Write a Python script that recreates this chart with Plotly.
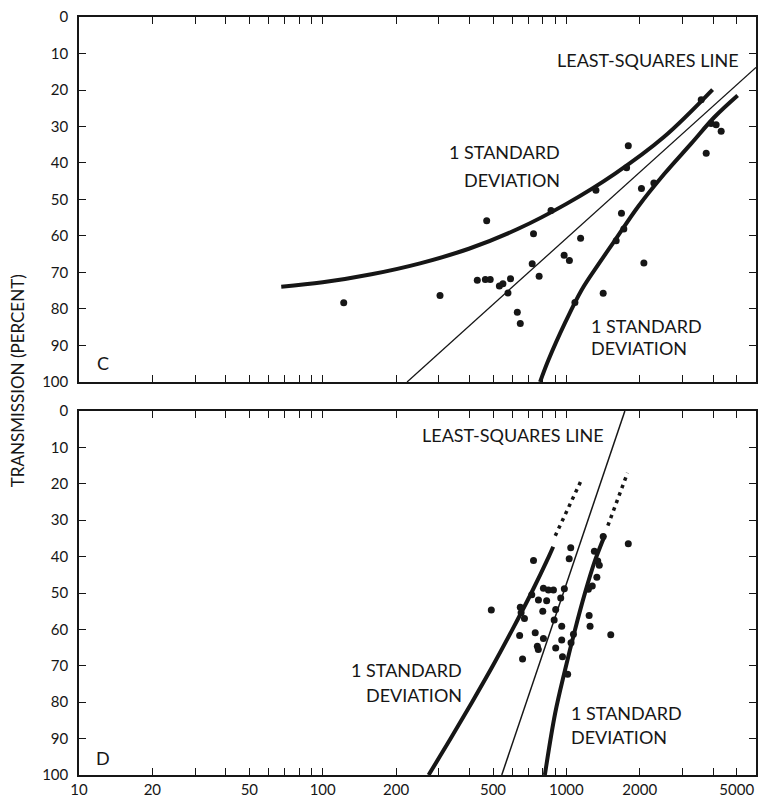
import plotly.graph_objects as go
import math

# ---------------- data ----------------
# Panel C scatter points (x: log scale value, y: transmission percent)
c_x = [122, 303, 471, 431, 465, 487, 531, 549, 590, 576, 629, 647, 733, 724, 773, 865,
       979, 1029, 1144, 1322, 1416, 1683, 1721, 1601, 2033, 2080, 2286, 1084, 1795, 1767,
       3925, 4117, 4318, 3748, 3575]
c_y = [78.3, 76.3, 55.8, 72.1, 71.9, 71.9, 73.7, 73.1, 71.7, 75.6, 80.9, 84.0, 59.4, 67.6,
       71.0, 53.0, 65.3, 66.7, 60.6, 47.5, 75.7, 53.8, 58.1, 61.3, 47.0, 67.4, 45.5, 78.2,
       35.3, 41.3, 29.2, 29.5, 31.3, 37.3, 22.7]

# Panel C curves
c_ls_x = [222, 6000]
c_ls_y = [100, 13.8]
c_sd1_x = [67.6, 100, 158.5, 251, 398, 631, 1000, 1585, 2512, 3981]
c_sd1_y = [73.9, 72.7, 70.5, 67.5, 63.5, 58.1, 51.2, 42.9, 32.9, 19.9]
c_sd2_x = [780, 844, 986, 1155, 1353, 1582, 1968, 2530, 3251, 4055, 5044]
c_sd2_y = [100, 94.0, 83.9, 74.8, 67.8, 61.2, 52.0, 42.9, 34.7, 27.4, 21.5]

# Panel D scatter points
d_x = [733, 1042, 1027, 1795, 1303, 1345, 1365, 1334, 1277, 1231, 805, 844, 885, 981, 721,
       768, 830, 948, 647, 652, 673, 492, 800, 904, 891, 1240, 1251, 957, 1521, 643, 745,
       805, 1069, 957, 760, 767, 904, 1045, 964, 661, 1012, 1416]
d_y = [41.1, 37.6, 40.6, 36.5, 38.5, 41.2, 42.4, 45.7, 48.1, 49.0, 48.7, 49.2, 49.2, 48.8,
       50.5, 51.9, 52.1, 51.4, 53.9, 55.4, 57.0, 54.7, 55.0, 54.5, 57.4, 56.2, 59.1, 59.1,
       61.5, 61.7, 60.9, 62.5, 61.3, 62.9, 64.6, 65.5, 65.1, 63.7, 67.5, 68.1, 72.3, 34.5]

# Panel D curves
d_ls_x = [543, 1738]
d_ls_y = [100, 0]
d_sd1_x = [272, 335, 410, 499, 601, 718, 847, 883]
d_sd1_y = [100, 90, 80, 70, 60, 50, 40, 37.3]
d_sd1_dot_x = [900, 1084, 1155]
d_sd1_dot_y = [34.3, 23.1, 18.8]
d_sd2_x = [816, 899, 987, 1084, 1191, 1309, 1439]
d_sd2_y = [100, 83.1, 71.2, 60.2, 50.1, 41.2, 34.1]
d_sd2_dot_x = [1480, 1671, 1782]
d_sd2_dot_y = [31.5, 21.7, 17.0]

# Ticks
x_tickvals = [10, 20, 30, 40, 50, 60, 70, 80, 90, 100, 200, 300, 400, 500, 600, 700, 800,
              900, 1000, 2000, 3000, 4000, 5000]
x_ticktext = ["10", "20", "", "", "50", "", "", "", "", "100", "200", "", "", "500", "", "",
              "", "", "1000", "2000", "", "", "5000"]
y_tickvals = [0, 10, 20, 30, 40, 50, 60, 70, 80, 90, 100]
y_ticktext = ["0", "10", "20", "30", "40", "50", "60", "70", "80", "90", "100"]

# ---------------- figure ----------------
INK = "#161616"
FONT = "Lato"

fig = go.Figure()

def line(x, y, xa, ya, width, dash="solid", shape="spline"):
    fig.add_trace(go.Scatter(x=x, y=y, xaxis=xa, yaxis=ya, mode="lines",
                             line=dict(color=INK, width=width, dash=dash, shape=shape,
                                       smoothing=1.0),
                             hoverinfo="skip", showlegend=False))

def pts(x, y, xa, ya):
    fig.add_trace(go.Scatter(x=x, y=y, xaxis=xa, yaxis=ya, mode="markers",
                             marker=dict(color=INK, size=7, line=dict(width=0)),
                             showlegend=False))

# Panel C
line(c_ls_x, c_ls_y, "x", "y", 1.3, shape="linear")
line(c_sd1_x, c_sd1_y, "x", "y", 4)
line(c_sd2_x, c_sd2_y, "x", "y", 4)
pts(c_x, c_y, "x", "y")

# Panel D
line(d_ls_x, d_ls_y, "x2", "y2", 1.5, shape="linear")
line(d_sd1_x, d_sd1_y, "x2", "y2", 4)
line(d_sd1_dot_x, d_sd1_dot_y, "x2", "y2", 3.5, dash="3.5px,4.5px", shape="linear")
line(d_sd2_x, d_sd2_y, "x2", "y2", 4)
line(d_sd2_dot_x, d_sd2_dot_y, "x2", "y2", 3.5, dash="3.5px,4.5px", shape="linear")
pts(d_x, d_y, "x2", "y2")

xcommon = dict(type="log", range=[1, math.log10(6000)], showgrid=False, zeroline=False,
               showline=True, linecolor=INK, linewidth=1.5, mirror="ticks",
               ticks="inside", ticklen=7, tickwidth=1.2, tickcolor=INK,
               tickmode="array", tickvals=x_tickvals, ticktext=x_ticktext,
               tickfont=dict(family=FONT, size=15, color=INK))
ycommon = dict(range=[100, 0], showgrid=False, zeroline=False,
               showline=True, linecolor=INK, linewidth=1.5, mirror="ticks",
               ticks="inside", ticklen=7, tickwidth=1.2, tickcolor=INK,
               tickmode="array", tickvals=y_tickvals, ticktext=y_ticktext,
               tickfont=dict(family=FONT, size=15, color=INK), ticklabelstandoff=6)

fig.update_layout(
    width=759, height=801,
    margin=dict(l=79, r=1, t=17, b=26),
    paper_bgcolor="white", plot_bgcolor="white",
    xaxis=dict(xcommon, anchor="y", domain=[0, 1], showticklabels=False),
    yaxis=dict(ycommon, anchor="x", domain=[0.5185, 1]),
    xaxis2=dict(xcommon, anchor="y2", domain=[0, 1], showticklabels=True),
    yaxis2=dict(ycommon, anchor="x2", domain=[0, 0.4802]),
    showlegend=False,
)

def ann(text, x, y, xanchor="center", size=18, angle=0):
    fig.add_annotation(text=text, x=x, y=y, xref="paper", yref="paper",
                       xanchor=xanchor, yanchor="middle", showarrow=False,
                       textangle=angle, font=dict(family=FONT, size=size, color=INK))

ann("C", 0.0353, 0.5435, size=18)
ann("D", 0.0353, 0.0224, size=18)
ann("LEAST-SQUARES LINE", 0.978, 0.9433, xanchor="right")
ann("1 STANDARD", 0.7128, 0.8223, xanchor="right")
ann("DEVIATION", 0.7128, 0.785, xanchor="right")
ann("1 STANDARD", 0.7526, 0.5927, xanchor="left")
ann("DEVIATION", 0.7526, 0.5633, xanchor="left")
ann("LEAST-SQUARES LINE", 0.779, 0.4485, xanchor="right")
ann("1 STANDARD", 0.5685, 0.1385, xanchor="right")
ann("DEVIATION", 0.5685, 0.1055, xanchor="right")
ann("1 STANDARD", 0.7231, 0.0814, xanchor="left")
ann("DEVIATION", 0.7231, 0.0505, xanchor="left")
ann("TRANSMISSION (PERCENT)", -0.0898, 0.5198, size=17, angle=-90)

fig.write_html("out.html")
